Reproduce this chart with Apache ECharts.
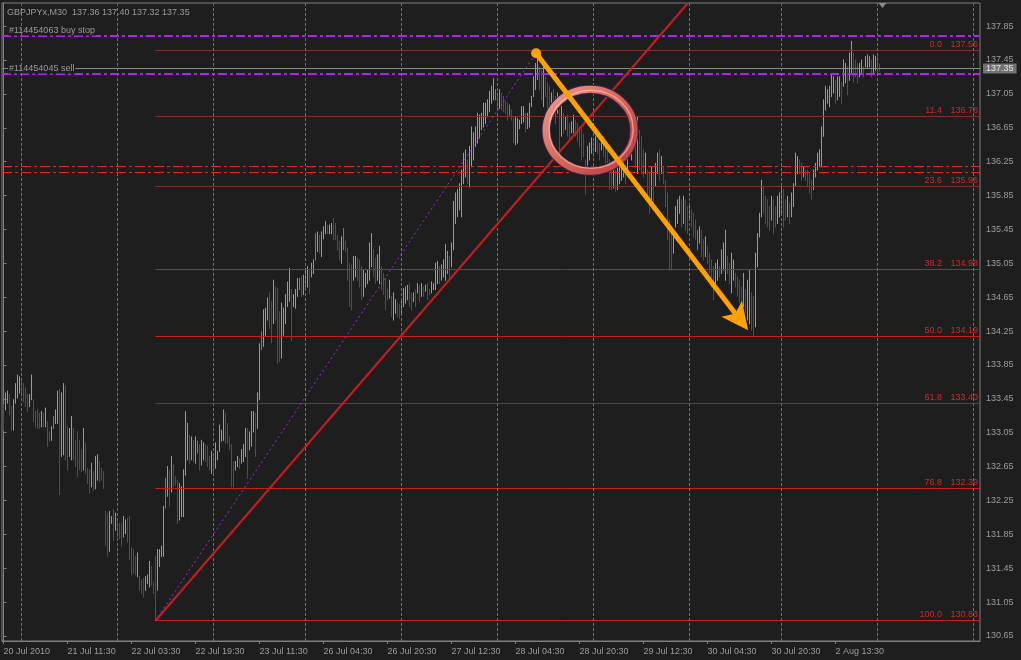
<!DOCTYPE html>
<html><head><meta charset="utf-8">
<script src="https://cdn.jsdelivr.net/npm/echarts@6/dist/echarts.min.js"></script>
<style>html,body{margin:0;padding:0;background:#1e1e1e}#c{width:1021px;height:660px}</style>
</head><body><div id="c"></div>
<script>
// ---------- data (GBPJPYx, M30) ----------
const highs = [
133.38,133.52,133.54,133.50,133.36,133.44,133.63,133.73,133.71,133.69,
133.63,133.58,133.50,133.50,133.73,133.44,133.30,133.32,133.28,133.30,
133.28,133.34,133.18,133.06,133.12,133.24,133.32,133.54,133.56,133.52,
133.63,133.60,133.12,133.10,133.24,133.10,132.96,133.06,132.96,132.85,
133.10,132.93,132.63,132.61,132.69,132.59,132.77,132.79,132.71,132.63,
132.59,132.12,132.10,132.12,132.06,132.14,132.10,132.02,131.98,131.98,
132.06,132.02,132.04,132.06,131.69,131.67,131.59,131.63,131.35,131.31,
131.33,131.35,131.37,131.53,131.47,131.29,131.59,131.67,131.67,131.71,
132.18,132.51,132.65,132.61,132.77,132.67,132.53,132.49,132.45,132.41,
132.61,133.30,133.16,133.02,133.00,132.96,133.00,132.95,132.91,132.96,
132.93,132.91,132.89,132.77,132.83,132.77,132.93,132.83,133.14,133.08,
133.32,133.28,133.16,133.00,132.91,132.71,132.71,132.77,132.75,132.85,
132.91,133.10,133.10,133.06,133.30,133.30,133.28,133.52,134.10,134.24,
134.50,134.52,134.64,134.70,134.60,134.85,134.77,134.75,134.48,134.58,
134.52,134.68,134.83,134.99,134.74,134.68,134.74,134.87,134.87,134.89,
134.91,134.99,135.01,134.97,135.05,135.09,135.40,135.42,135.38,135.42,
135.48,135.54,135.50,135.50,135.52,135.58,135.52,135.38,135.31,135.36,
135.46,135.31,135.23,135.05,135.03,135.13,135.13,135.11,135.09,135.01,
134.97,134.93,134.97,135.29,135.40,135.21,135.11,135.15,135.25,135.01,
134.93,134.87,134.74,134.85,134.66,134.70,134.62,134.58,134.56,134.62,
134.75,134.77,134.79,134.81,134.70,134.70,134.74,134.81,134.79,134.81,
134.77,134.79,134.81,134.74,134.83,134.81,135.05,135.07,135.01,135.03,
135.09,135.27,135.19,135.13,135.29,135.78,135.88,135.92,135.99,136.15,
136.35,136.39,136.27,136.43,136.66,136.59,136.66,136.82,136.80,136.82,
136.94,136.94,136.98,137.08,137.14,137.23,137.10,137.06,137.10,137.06,
137.02,136.96,136.94,136.92,136.86,136.76,136.78,136.76,136.74,136.90,
136.90,136.82,136.82,136.94,137.02,137.25,137.41,137.56,137.37,137.33,
137.41,137.25,137.18,137.14,137.06,137.10,137.02,137.06,136.86,136.90,
136.82,136.78,136.80,136.70,136.72,136.80,136.74,136.70,136.66,136.63,
136.57,136.27,136.43,136.47,136.53,136.49,136.55,136.51,136.47,136.51,
136.55,136.43,136.39,136.27,136.19,136.17,136.15,136.21,136.23,136.19,
136.27,136.21,136.35,136.50,136.58,136.66,136.70,136.78,136.62,136.55,
136.39,136.35,136.15,136.11,136.19,136.11,136.23,136.35,136.39,136.31,
136.19,136.03,135.88,135.56,135.48,135.36,135.72,135.80,135.84,135.80,
135.84,135.80,135.72,135.76,135.68,135.64,135.56,135.44,135.48,135.44,
135.33,135.36,135.25,135.17,135.09,135.01,135.05,135.09,135.01,135.21,
135.29,135.44,135.13,135.05,135.17,135.09,134.93,134.89,134.85,134.77,
134.93,134.74,134.85,134.97,134.70,134.66,135.17,135.40,135.64,136.03,
135.96,135.84,135.80,135.72,135.84,135.80,135.72,135.84,135.88,135.96,
135.92,135.80,135.84,135.76,135.88,135.99,136.35,136.31,136.27,136.23,
136.19,136.15,136.15,136.11,136.03,136.15,136.23,136.35,136.39,136.66,
136.98,137.14,137.10,137.14,137.29,137.25,137.21,137.25,137.25,137.18,
137.45,137.41,137.37,137.53,137.67,137.53,137.45,137.41,137.41,137.45,
137.37,137.49,137.51,137.49,137.45,137.51,137.49,137.49,137.40
];
const lows = [
133.08,133.32,133.40,133.26,133.08,133.08,133.40,133.46,133.52,133.48,
133.42,133.36,133.30,133.36,133.44,133.18,133.12,133.10,133.10,133.12,
133.12,133.12,132.89,132.95,132.96,133.10,133.16,133.16,132.32,132.77,
132.79,132.73,132.61,132.77,132.73,132.73,132.65,132.53,132.61,132.59,
132.61,132.57,132.45,132.34,132.41,132.37,132.39,132.49,132.47,132.49,
132.39,131.72,131.59,131.65,131.98,131.78,131.90,131.82,131.80,131.71,
131.82,131.86,131.76,131.55,131.37,131.39,131.37,131.35,131.19,131.15,
131.11,131.19,131.27,131.23,131.25,131.15,130.83,131.19,131.47,131.59,
131.59,132.16,132.30,132.18,132.35,132.41,132.43,131.98,132.02,132.06,
132.06,132.55,132.73,132.69,132.73,132.71,132.69,132.81,132.61,132.67,
132.73,132.71,132.65,132.61,132.57,132.57,132.63,132.73,132.83,132.95,
132.96,132.93,132.93,132.85,132.41,132.41,132.61,132.65,132.63,132.69,
132.71,132.77,132.51,132.85,132.89,133.06,132.77,133.10,133.44,134.03,
134.07,134.20,134.38,134.28,134.11,134.34,134.38,133.87,133.89,133.93,
134.20,134.34,134.54,134.60,134.14,134.54,134.52,134.66,134.74,134.66,
134.68,134.77,134.77,134.69,134.89,134.93,135.09,135.19,135.17,135.13,
135.34,135.40,135.40,135.40,135.40,135.33,135.33,135.21,135.09,135.05,
135.21,135.19,134.85,134.54,134.50,134.85,134.89,134.85,134.77,134.62,
134.66,134.77,134.81,134.85,135.01,134.89,134.81,134.85,134.81,134.74,
134.68,134.50,134.62,134.64,134.42,134.38,134.46,134.42,134.40,134.46,
134.54,134.58,134.62,134.54,134.50,134.60,134.54,134.70,134.60,134.66,
134.66,134.72,134.62,134.68,134.70,134.74,134.74,134.81,134.81,134.85,
134.89,134.85,134.93,134.85,135.01,135.21,135.52,135.60,135.68,135.60,
135.99,136.07,135.99,135.95,136.19,136.27,136.43,136.47,136.53,136.63,
136.66,136.70,136.78,136.84,136.94,136.98,136.98,136.86,136.88,136.86,
136.84,136.82,136.74,136.80,136.74,136.47,136.45,136.47,136.64,136.70,
136.72,136.60,136.64,136.66,136.90,137.02,137.10,137.22,137.10,136.98,
136.90,137.02,136.88,136.74,136.86,136.78,136.70,136.82,136.39,136.55,
136.59,136.63,136.55,136.51,136.59,136.59,136.55,136.49,136.43,136.27,
136.31,135.86,136.21,136.27,136.35,136.31,136.37,136.35,136.27,136.39,
136.31,136.23,136.21,135.92,135.92,135.94,135.90,135.92,135.99,136.03,
136.07,135.99,136.11,136.31,136.27,136.39,136.19,136.11,136.15,136.11,
136.07,136.11,135.80,135.64,135.80,135.68,135.96,136.11,136.03,136.11,
135.99,135.72,135.33,134.97,134.97,135.17,135.48,135.52,135.64,135.48,
135.52,135.44,135.40,135.56,135.48,135.36,135.33,135.21,135.29,135.13,
135.09,135.13,135.05,134.93,134.77,134.62,134.74,134.85,134.89,134.93,
134.97,134.85,134.93,134.81,134.70,134.85,134.77,134.66,134.58,134.54,
134.54,134.46,134.38,134.34,134.26,134.19,134.30,135.01,135.36,135.60,
135.64,135.52,135.48,135.44,135.56,135.40,135.48,135.52,135.60,135.64,
135.48,135.56,135.60,135.52,135.60,135.72,135.96,136.11,136.11,136.03,
136.07,136.03,135.96,135.88,135.80,135.92,136.07,136.15,136.19,136.19,
136.55,136.86,136.94,136.90,137.02,137.06,136.94,136.98,137.02,136.94,
137.14,137.18,137.04,137.21,137.29,137.19,137.25,137.18,137.25,137.29,
137.25,137.37,137.35,137.37,137.25,137.29,137.33,137.29,137.32
];
const dojiBars = [25, 81, 97, 129, 148, 156, 170, 246, 253, 347];
const timeTickBars = [0, 32, 64, 96, 128, 160, 192, 224, 256, 288, 320, 352, 384, 416];
const timeTickLabels = ['20 Jul 2010', '21 Jul 11:30', '22 Jul 03:30', '22 Jul 19:30', '23 Jul 11:30',
  '26 Jul 04:30', '26 Jul 20:30', '27 Jul 12:30', '28 Jul 04:30', '28 Jul 20:30',
  '29 Jul 12:30', '30 Jul 04:30', '30 Jul 20:30', '2 Aug 13:30'];
const daySeparatorBars = [9, 57, 105, 151, 199, 247, 295, 343, 389, 437, 485];
const priceTicks = [130.65, 131.05, 131.45, 131.85, 132.25, 132.65, 133.05, 133.45, 133.85, 134.25,
  134.65, 135.05, 135.45, 135.85, 136.25, 136.65, 137.05, 137.45, 137.85];
const fibLevels = ['0.0', '11.4', '23.6', '38.2', '50.0', '61.8', '76.8', '100.0'];
const fibPrices = [137.56, 136.78, 135.96, 134.98, 134.19, 133.40, 132.39, 130.83];
const fibLowBar = 76, fibHighBar = 267;
// horizontal order / price lines: bid, buy stop, sell, stop levels
const lineKinds = ['bid', 'buystop', 'sell', 'stop', 'stop'];
const linePrices = [137.35, 137.735, 137.29, 136.19, 136.12];
const lineLabels = ['', '#114454063 buy stop', '#114454045 sell', '', ''];
const trendFrom = [76, 130.83], trendTo = [342.1, 138.12];
const arrowFrom = [266.3, 137.53], arrowTo = [372.3, 134.26];
const ringCenter = [293.3, 136.62];
const headerText = 'GBPJPYx,M30  137.36 137.40 137.32 137.35';
const lastBar = 439.5;

// ---------- styles ----------
const BG = '#1e1e1e', AX = '#7f7f7f', TXT = '#9c9c9c';
const FONT = '"Liberation Sans", Arial, sans-serif';
const barColors = ['#9a9a9a', '#b52323', '#2b8ee6'];
const fibLineColors = ['#7e3333', '#7e3333', '#7e3333', '#c21f1f', '#c21f1f', '#7e3333', '#c21f1f', '#c21f1f'];
const PURPLE = '#a626f2', ORANGE = '#ffa200';
const lineStyles = {
  bid: {stroke: '#8a8a8a', lineDash: null, width: 1},
  buystop: {stroke: PURPLE, lineDash: [9, 3, 3, 3], width: 2},
  sell: {stroke: PURPLE, lineDash: [9, 3, 3, 3], width: 2},
  stop: {stroke: '#e02626', lineDash: [10, 3, 3, 3], width: 1}
};

const barData = highs.map((h, i) => {
  let k;
  if (dojiBars.includes(i)) k = 2;
  else if (i === 0) k = 1;
  else k = ((h + lows[i]) >= (highs[i - 1] + lows[i - 1])) ? 0 : 1;
  return [i, lows[i], h, k];
});

const crisp = v => Math.round(v - 0.5) + 0.5;
const chart = echarts.init(document.getElementById('c'), null, {renderer: 'canvas'});
const noSym = ['none', 'none'];

chart.setOption({
  backgroundColor: BG,
  animation: false,
  title: {text: headerText, left: 7, top: 8, padding: 0,
    textStyle: {color: TXT, fontSize: 9, fontWeight: 'normal', fontFamily: FONT}},
  grid: {left: 2, right: 41, top: 3, bottom: 19, show: true, borderColor: AX, borderWidth: 1, backgroundColor: 'transparent'},
  xAxis: {type: 'value', min: -0.75, max: 488.25,
    axisLine: {show: true, lineStyle: {color: AX}},
    axisTick: {show: true, customValues: timeTickBars, length: 3, lineStyle: {color: AX}},
    axisLabel: {customValues: timeTickBars, formatter: v => timeTickLabels[timeTickBars.indexOf(Math.round(v))] || '',
      color: TXT, fontSize: 9, fontFamily: FONT, align: 'left', margin: 6},
    splitLine: {show: false}},
  yAxis: {type: 'value', position: 'right', min: 130.591, max: 138.123,
    axisLine: {show: true, lineStyle: {color: AX}},
    axisTick: {show: true, customValues: priceTicks, length: 3, lineStyle: {color: AX}},
    axisLabel: {customValues: priceTicks, formatter: v => v.toFixed(2), color: TXT, fontSize: 9, fontFamily: FONT, margin: 6},
    splitLine: {show: false}},
  series: [
    {type: 'line', data: [], z: 1, silent: true,
      markLine: {silent: true, symbol: noSym, label: {show: false},
        lineStyle: {color: '#707070', type: [3, 2], width: 1},
        data: daySeparatorBars.map(b => ({xAxis: b}))}},
    {type: 'custom', z: 2, silent: true, data: barData, encode: {x: 0, y: [1, 2]},
      renderItem: (params, api) => {
        const i = api.value(0), lo = api.value(1), hi = api.value(2), k = api.value(3);
        const p1 = api.coord([i, lo]), p2 = api.coord([i, hi]);
        const x = crisp(p1[0]);
        return {type: 'line', shape: {x1: x, y1: p1[1] + 0.5, x2: x, y2: p2[1] - 0.5},
          style: {stroke: barColors[k], lineWidth: 1}};
      }},
    {type: 'custom', z: 3, silent: true, data: fibPrices.map((p, j) => [fibLowBar, p, j]), encode: {x: 0, y: 1},
      renderItem: (params, api) => {
        const p = api.value(1), j = api.value(2);
        const a = api.coord([api.value(0), p]);
        const cs = params.coordSys;
        const right = cs.x + cs.width;
        const y = crisp(a[1]);
        return {type: 'group', children: [
          {type: 'line', shape: {x1: crisp(a[0]), y1: y, x2: right, y2: y}, style: {stroke: fibLineColors[j], lineWidth: 1}},
          {type: 'text', style: {text: fibLevels[j], x: right - 38, y: y - 1, fill: '#d02a2a', font: '9px ' + FONT, align: 'right', verticalAlign: 'bottom'}},
          {type: 'text', style: {text: p.toFixed(2), x: right - 2, y: y - 1, fill: '#d02a2a', font: '9px ' + FONT, align: 'right', verticalAlign: 'bottom'}}
        ]};
      }},
    {type: 'custom', z: 4, silent: true, data: linePrices.map((p, j) => [0, p, j]), encode: {y: 1},
      renderItem: (params, api) => {
        const p = api.value(1), j = api.value(2);
        const kind = lineKinds[j], st = lineStyles[kind];
        const cs = params.coordSys;
        const yRaw = api.coord([0, p])[1];
        const y = st.width % 2 ? crisp(yRaw) : Math.round(yRaw);
        const children = [{type: 'line', shape: {x1: cs.x, y1: y, x2: cs.x + cs.width, y2: y},
          style: {stroke: st.stroke, lineWidth: st.width, lineDash: st.lineDash}}];
        if (lineLabels[j]) {
          children.push({type: 'text', z2: 10, style: {text: lineLabels[j], x: cs.x + 6, y: y - 5,
            fill: TXT, font: '9px ' + FONT, align: 'left', verticalAlign: 'middle',
            backgroundColor: BG, padding: [0, 1, 0, 1]}});
        }
        if (kind === 'bid') {
          children.push({type: 'text', z2: 10, style: {text: p.toFixed(2), x: cs.x + cs.width + 3, y: y,
            fill: '#e8e8e8', font: '9px ' + FONT, align: 'left', verticalAlign: 'middle',
            backgroundColor: '#727272', padding: [1, 3, 0, 3]}});
        }
        return {type: 'group', children};
      }},
    {type: 'line', data: [], z: 6, silent: true,
      markLine: {silent: true, symbol: noSym, label: {show: false},
        data: [
          [{coord: trendFrom, lineStyle: {color: '#c41e1e', width: 2, type: 'solid'}}, {coord: trendTo}],
          [{coord: [fibLowBar, fibPrices[7]], lineStyle: {color: PURPLE, width: 1, type: [2, 3]}}, {coord: [fibHighBar, fibPrices[0]]}]
        ]}},
    {type: 'custom', z: 8, silent: true, data: [[arrowFrom[0], arrowFrom[1], arrowTo[0], arrowTo[1]]],
      encode: {x: [0, 2], y: [1, 3]},
      renderItem: (params, api) => {
        const p0 = api.coord([api.value(0), api.value(1)]);
        const p1 = api.coord([api.value(2), api.value(3)]);
        const dx = p1[0] - p0[0], dy = p1[1] - p0[1], len = Math.hypot(dx, dy);
        const ux = dx / len, uy = dy / len, nx = -uy, ny = ux;
        const L = 27, W = 13, notch = 6;
        const bx = p1[0] - ux * L, by = p1[1] - uy * L;
        const mx = p1[0] - ux * (L - notch), my = p1[1] - uy * (L - notch);
        return {type: 'group', children: [
          {type: 'line', shape: {x1: p0[0], y1: p0[1], x2: mx, y2: my}, style: {stroke: ORANGE, lineWidth: 5}},
          {type: 'circle', shape: {cx: p0[0], cy: p0[1], r: 5}, style: {fill: ORANGE}},
          {type: 'polygon', shape: {points: [[p1[0], p1[1]], [bx + nx * W, by + ny * W], [mx, my], [bx - nx * W, by - ny * W]]},
            style: {fill: ORANGE}}
        ]};
      }}
  ]
});

// ring annotation and chart-shift marker, positioned from data coordinates
const c = chart.convertToPixel({gridIndex: 0}, ringCenter);
const tri = chart.convertToPixel({gridIndex: 0}, [lastBar, 138.123]);
chart.setOption({graphic: [
  {type: 'ellipse', z: 7, silent: true, shape: {cx: c[0], cy: c[1], rx: 44, ry: 41},
    style: {fill: 'none', stroke: '#3a2458', lineWidth: 9}},
  {type: 'ellipse', z: 7, silent: true, shape: {cx: c[0], cy: c[1], rx: 44, ry: 41},
    style: {fill: 'none', lineWidth: 7, stroke: {type: 'linear', x: 0, y: 0, x2: 1, y2: 1,
      colorStops: [{offset: 0, color: '#f0a090'}, {offset: 0.5, color: '#d86454'}, {offset: 1, color: '#b8383a'}]}}},
  {type: 'ellipse', z: 7, silent: true, shape: {cx: c[0] + 1, cy: c[1] - 1, rx: 42, ry: 39},
    style: {fill: 'none', stroke: 'rgba(255,200,185,0.6)', lineWidth: 1.5}},
  {type: 'polygon', z: 9, silent: true, shape: {points: [[tri[0] - 4, tri[1]], [tri[0] + 4, tri[1]], [tri[0], tri[1] + 5]]},
    style: {fill: '#8a8a8a'}}
]});
</script>
</body></html>
